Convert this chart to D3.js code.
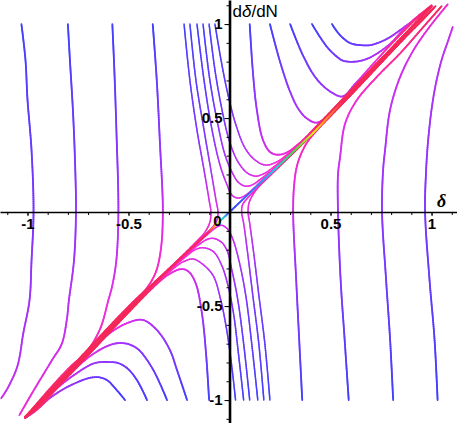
<!DOCTYPE html>
<head>
  <meta charset="UTF-8">
  <style>
    body { margin: 0; background: #fff; }
    svg { display: block; }
  </style>
  <title>Phase portrait of the density contrast</title>
</head>
<body>
  <script src="https://cdn.jsdelivr.net/npm/d3@7/dist/d3.min.js"></script>
  <script>
    // every point is [delta, d delta / dN]

    // long curves left of the saddle, top edge down into the lower-left corner (far -> near)
    var leftCurves = [
      [[-1.03,1.0],[-1.01,0.81],[-1.0,0.6],[-0.98,0.33],[-0.97,0],[-0.98,-0.26],[-0.99,-0.47],[-1.02,-0.64],[-1.05,-0.82],[-1.10,-0.94],[-1.13,-0.99]],
      [[-0.80,1.0],[-0.79,0.81],[-0.775,0.54],[-0.765,0.28],[-0.76,0],[-0.77,-0.26],[-0.795,-0.47],[-0.805,-0.57],[-0.83,-0.70],[-0.88,-0.79],[-0.97,-0.95],[-1.04,-1.08]],
      [[-0.58,1.0],[-0.57,0.755],[-0.56,0.44],[-0.55,0],[-0.56,-0.255],[-0.58,-0.39],[-0.60,-0.47],[-0.64,-0.62],[-0.705,-0.74],[-0.79,-0.825],[-0.89,-0.94],[-1.01,-1.09]],
      [[-0.38,1.0],[-0.36,0.70],[-0.345,0.38],[-0.33,0],[-0.34,-0.20],[-0.365,-0.32],[-0.41,-0.405],[-0.47,-0.47],[-0.57,-0.58],[-0.74,-0.775],[-0.89,-0.95],[-1.01,-1.09]]
    ];

    // long curves right of the saddle, bottom edge up into the upper-right corner (far -> near)
    var rightCurves = [
      [[1.03,-1.0],[1.015,-0.68],[0.99,-0.36],[0.968,0],[0.973,0.22],[0.983,0.38],[1.0,0.545],[1.02,0.675],[1.05,0.81],[1.08,0.905],[1.105,0.985]],
      [[0.81,-1.0],[0.795,-0.68],[0.775,-0.36],[0.755,0],[0.76,0.22],[0.77,0.33],[0.795,0.545],[0.845,0.72],[0.91,0.86],[0.99,0.985],[1.08,1.105]],
      [[0.59,-1.0],[0.57,-0.68],[0.55,-0.36],[0.537,0],[0.537,0.2],[0.547,0.29],[0.572,0.47],[0.63,0.595],[0.73,0.72],[0.845,0.845],[0.96,0.985],[1.05,1.095]],
      [[0.36,-1.0],[0.345,-0.68],[0.33,-0.36],[0.315,0],[0.32,0.145],[0.335,0.25],[0.375,0.355],[0.43,0.432],[0.50,0.512],[0.645,0.675],[0.83,0.89],[0.945,1.01],[1.02,1.095]]
    ];

    // curves starting at the top right of the axis, turning into the upper-right branch (far -> near)
    var upperCurves = [
      [[0.507,1.0],[0.547,0.941],[0.597,0.899],[0.646,0.888],[0.696,0.888],[0.745,0.904],[0.795,0.931],[0.879,0.995],[0.943,1.045],[1.0,1.1]],
      [[0.408,1.0],[0.448,0.931],[0.483,0.878],[0.522,0.835],[0.562,0.805],[0.621,0.80],[0.681,0.815],[0.74,0.85],[0.80,0.90],[0.86,0.97],[0.93,1.04],[1.0,1.098]],
      [[0.30,1.0],[0.365,0.83],[0.43,0.71],[0.50,0.64],[0.56,0.615],[0.62,0.68],[0.70,0.775],[0.78,0.87],[0.86,0.96],[0.93,1.035],[1.0,1.097]],
      [[0.20,1.0],[0.25,0.80],[0.30,0.64],[0.34,0.55],[0.38,0.50],[0.43,0.475],[0.48,0.505],[0.54,0.575],[0.62,0.665],[0.72,0.78],[0.82,0.89],[0.91,0.995],[1.0,1.095]],
      [[0.10,1.0],[0.115,0.755],[0.135,0.545],[0.165,0.385],[0.20,0.32],[0.235,0.305],[0.28,0.315],[0.35,0.37],[0.45,0.478],[0.58,0.62],[0.75,0.812],[0.90,0.982],[1.0,1.093]]
    ];

    // curves starting at the bottom left of the axis, turning into the lower-left branch (far -> near)
    var lowerCurves = [
      [[-0.517,-1.0],[-0.567,-0.936],[-0.606,-0.894],[-0.651,-0.878],[-0.696,-0.883],[-0.75,-0.904],[-0.804,-0.931],[-0.889,-0.989],[-0.963,-1.06],[-1.012,-1.095]],
      [[-0.408,-1.0],[-0.458,-0.894],[-0.507,-0.83],[-0.552,-0.803],[-0.592,-0.798],[-0.666,-0.803],[-0.755,-0.856],[-0.864,-0.947],[-0.948,-1.04],[-1.012,-1.095]],
      [[-0.309,-1.0],[-0.364,-0.867],[-0.408,-0.787],[-0.453,-0.729],[-0.502,-0.702],[-0.552,-0.697],[-0.616,-0.718],[-0.715,-0.787],[-0.839,-0.92],[-0.938,-1.035],[-1.012,-1.093]],
      [[-0.21,-1.0],[-0.26,-0.84],[-0.295,-0.734],[-0.359,-0.628],[-0.428,-0.574],[-0.493,-0.585],[-0.592,-0.644],[-0.725,-0.79],[-0.864,-0.94],[-1.012,-1.09]],
      [[-0.101,-1.0],[-0.116,-0.755],[-0.136,-0.543],[-0.166,-0.383],[-0.2,-0.319],[-0.235,-0.303],[-0.299,-0.33],[-0.398,-0.42],[-0.542,-0.574],[-0.74,-0.80],[-1.012,-1.09]]
    ];

    // steep curves from the top edge just left of the axis
    var topNearAxis = [
      [[-0.225,1.0],[-0.196,0.70],[-0.161,0.436],[-0.126,0.223],[-0.101,0.064],[-0.092,0],[-0.097,-0.053],[-0.121,-0.106],[-0.171,-0.165],[-0.344,-0.348],[-0.592,-0.615],[-0.839,-0.895],[-1.012,-1.088]],
      [[-0.196,1.0],[-0.166,0.70],[-0.126,0.436],[-0.092,0.223],[-0.067,0.064],[-0.057,0],[-0.062,-0.043],[-0.082,-0.078],[-0.121,-0.12],[-0.245,-0.245],[-0.542,-0.55],[-0.80,-0.858],[-1.012,-1.089]],
      [[-0.161,1.0],[-0.126,0.70],[-0.087,0.44],[-0.047,0.25],[-0.012,0.144],[0.012,0.09],[0.042,0.074],[0.072,0.085],[0.111,0.117],[0.176,0.186],[0.30,0.308],[0.55,0.582],[0.80,0.868],[1.0,1.092]],
      [[-0.131,1.0],[-0.097,0.70],[-0.057,0.463],[-0.022,0.303],[0.012,0.213],[0.042,0.16],[0.077,0.138],[0.111,0.144],[0.161,0.181],[0.25,0.258],[0.45,0.466],[0.70,0.757],[1.0,1.093]],
      [[-0.101,1.0],[-0.072,0.755],[-0.037,0.543],[-0.002,0.383],[0.037,0.277],[0.082,0.213],[0.126,0.191],[0.166,0.202],[0.225,0.245],[0.349,0.362],[0.597,0.638],[0.85,0.925],[1.0,1.094]],
      [[-0.072,1.0],[-0.042,0.809],[-0.007,0.622],[0.032,0.463],[0.077,0.34],[0.126,0.277],[0.176,0.25],[0.225,0.262],[0.30,0.318],[0.399,0.418],[0.597,0.645],[0.85,0.926],[1.0,1.095]]
    ];

    // steep curves from the bottom edge just right of the axis
    var bottomNearAxis = [
      [[0.20,-1.0],[0.175,-0.70],[0.145,-0.44],[0.12,-0.22],[0.10,-0.06],[0.092,0],[0.097,0.05],[0.12,0.10],[0.17,0.165],[0.34,0.34],[0.59,0.61],[0.84,0.895],[1.012,1.088]],
      [[0.17,-1.0],[0.145,-0.70],[0.115,-0.44],[0.09,-0.22],[0.07,-0.06],[0.06,0],[0.065,0.04],[0.09,0.075],[0.13,0.12],[0.25,0.245],[0.54,0.555],[0.80,0.85],[1.012,1.089]],
      [[0.14,-1.0],[0.11,-0.70],[0.08,-0.44],[0.045,-0.25],[0.015,-0.14],[-0.01,-0.09],[-0.04,-0.07],[-0.07,-0.085],[-0.11,-0.12],[-0.18,-0.19],[-0.30,-0.315],[-0.55,-0.59],[-0.80,-0.87],[-1.01,-1.092]],
      [[0.10,-1.0],[0.07,-0.70],[0.04,-0.46],[0.01,-0.30],[-0.01,-0.21],[-0.04,-0.16],[-0.08,-0.14],[-0.11,-0.145],[-0.16,-0.18],[-0.25,-0.262],[-0.45,-0.472],[-0.70,-0.76],[-1.01,-1.093]],
      [[0.07,-1.0],[0.045,-0.76],[0.02,-0.54],[-0.01,-0.38],[-0.04,-0.28],[-0.08,-0.21],[-0.13,-0.19],[-0.17,-0.20],[-0.22,-0.24],[-0.35,-0.362],[-0.60,-0.64],[-0.85,-0.926],[-1.01,-1.094]],
      [[0.03,-1.0],[0.01,-0.81],[-0.015,-0.62],[-0.045,-0.46],[-0.08,-0.34],[-0.13,-0.28],[-0.18,-0.25],[-0.23,-0.265],[-0.30,-0.32],[-0.40,-0.42],[-0.60,-0.648],[-0.85,-0.93],[-1.01,-1.095]]
    ];

    // the attracting diagonal, leaving the origin both ways
    var diagonalUp = [[0.005,0.005],[0.05,0.051],[0.10,0.102],[0.15,0.153],[0.20,0.203],[0.25,0.254],[0.30,0.305],[0.35,0.356],[0.413,0.42],[0.50,0.519],[0.60,0.634],[0.70,0.748],[0.80,0.862],[0.90,0.977],[1.0,1.091]];
    var diagonalDown = [[-0.005,-0.005],[-0.05,-0.051],[-0.10,-0.102],[-0.15,-0.153],[-0.20,-0.203],[-0.25,-0.254],[-0.30,-0.305],[-0.35,-0.356],[-0.413,-0.42],[-0.50,-0.519],[-0.60,-0.634],[-0.70,-0.748],[-0.80,-0.862],[-0.90,-0.977],[-1.012,-1.091]];

    // tick labels
    var xLabels = [-1, -0.5, 0.5, 1];
    var yLabels = [-1, -0.5, 0.5, 1];

    // colour ramps along each curve: [fraction of length, colour]
    var verticalRamps = [
      [[0,"#4040ff"],[0.5,"#7a36ff"],[1,"#c830f0"]],
      [[0,"#4040ff"],[0.45,"#8a35ff"],[0.8,"#d02ef0"],[1,"#f02ad0"]],
      [[0,"#4040ff"],[0.4,"#9a33ff"],[0.65,"#e82ee8"],[0.82,"#ff2aa0"],[1,"#f5285a"]],
      [[0,"#4040ff"],[0.3,"#9a33ff"],[0.5,"#f02ae0"],[0.65,"#ff2a90"],[0.75,"#f5285a"],[1,"#f5285a"]]
    ];
    var sweepRamps = [
      [[0,"#4040ff"],[0.45,"#8035ff"],[1,"#e02ee0"]],
      [[0,"#4040ff"],[0.4,"#9033ff"],[0.75,"#e02ee8"],[1,"#ff2aa0"]],
      [[0,"#4040ff"],[0.35,"#9a33ff"],[0.6,"#ee2ee0"],[0.8,"#ff2a80"],[1,"#f5285a"]],
      [[0,"#4040ff"],[0.3,"#a033ff"],[0.5,"#f02ae0"],[0.7,"#ff2a70"],[1,"#f5285a"]],
      [[0,"#4040ff"],[0.25,"#a033ff"],[0.42,"#f02ae0"],[0.6,"#f5285a"],[1,"#f5285a"]]
    ];
    var crossRamp = [[0,"#4040ff"],[0.25,"#8035ff"],[0.4,"#e02ee8"],[0.5,"#ff2ab0"],[0.6,"#f5285a"],[1,"#f5285a"]];
    var turnRamp = [[0,"#4040ff"],[0.2,"#7036ff"],[0.35,"#c030f8"],[0.45,"#ff2ad0"],[0.58,"#f5285a"],[1,"#f5285a"]];
    var rainbowUp = [[0,"#4040ff"],[0.1,"#3a6cff"],[0.21,"#22cce8"],[0.31,"#44dd44"],[0.40,"#e8e822"],[0.47,"#ff8c22"],[0.55,"#f5285a"],[1,"#f5285a"]];
    var rainbowDown = [[0,"#4040ff"],[0.025,"#22cce8"],[0.04,"#44dd44"],[0.055,"#e8e822"],[0.07,"#ff8c22"],[0.1,"#f5285a"],[1,"#f5285a"]];

    var width = 457;
    var height = 423;

    var x = d3.scaleLinear().domain([-1.136, 1.126]).range([0, width]);
    var y = d3.scaleLinear().domain([-1.122, 1.128]).range([height, 0]);

    var svg = d3.select("body").append("svg")
      .attr("width", width)
      .attr("height", height);

    svg.append("rect").attr("width", width).attr("height", height).attr("fill", "#fff");

    var plot = svg.append("g").attr("id", "curves");

    var line = d3.line()
      .x(function (d) { return x(d[0]); })
      .y(function (d) { return y(d[1]); })
      .curve(d3.curveCatmullRom.alpha(0.5));

    function rampScale(stops) {
      return d3.scaleLinear()
        .domain(stops.map(function (s) { return s[0]; }))
        .range(stops.map(function (s) { return s[1]; }))
        .interpolate(d3.interpolateRgb)
        .clamp(true);
    }

    // draw one curve as short pieces so the colour can run along it
    function drawCurve(pts, stops, w) {
      var color = rampScale(stops);
      var tmp = plot.append("path").attr("d", line(pts)).attr("fill", "none");
      var node = tmp.node();
      var len = node.getTotalLength();
      var n = Math.max(2, Math.ceil(len / 2));
      var samples = d3.range(n + 1).map(function (i) { return node.getPointAtLength(len * i / n); });
      tmp.remove();
      var segs = d3.pairs(samples).map(function (p, i) {
        return { a: p[0], b: p[1], t: (i + 0.5) / n };
      });
      plot.append("g").selectAll("line")
        .data(segs)
        .join("line")
        .attr("x1", function (d) { return d.a.x; })
        .attr("y1", function (d) { return d.a.y; })
        .attr("x2", function (d) { return d.b.x; })
        .attr("y2", function (d) { return d.b.y; })
        .attr("stroke", function (d) { return color(d.t); })
        .attr("stroke-width", w || 1.8)
        .attr("stroke-linecap", "round");
    }

    leftCurves.forEach(function (c, i) { drawCurve(c, verticalRamps[i]); });
    rightCurves.forEach(function (c, i) { drawCurve(c, verticalRamps[i]); });
    upperCurves.forEach(function (c, i) { drawCurve(c, sweepRamps[i]); });
    lowerCurves.forEach(function (c, i) { drawCurve(c, sweepRamps[i]); });
    topNearAxis.forEach(function (c, i) { drawCurve(c, i < 2 ? crossRamp : turnRamp, 1.5); });
    bottomNearAxis.forEach(function (c, i) { drawCurve(c, i < 2 ? crossRamp : turnRamp, 1.5); });
    drawCurve(diagonalUp, rainbowUp, 1.8);
    drawCurve(diagonalDown, rainbowDown, 1.8);

    // axes through the origin
    var font = "'Liberation Sans', Arial, Helvetica, sans-serif";

    var xMinor = svg.append("g")
      .attr("transform", "translate(0," + y(0) + ")")
      .call(d3.axisBottom(x).tickValues(x.ticks(20)).tickSize(3).tickSizeOuter(0).tickFormat(""));
    xMinor.select(".domain").attr("stroke-width", 1.6);

    var xMajor = svg.append("g")
      .attr("transform", "translate(0," + y(0) + ")")
      .call(d3.axisBottom(x).tickValues(xLabels).tickSize(4).tickPadding(2).tickSizeOuter(0)
        .tickFormat(function (d) { return String(d); }))
      .attr("font-family", font)
      .attr("font-size", 15)
      .attr("font-weight", "bold");
    xMajor.select(".domain").remove();

    var yMinor = svg.append("g")
      .attr("transform", "translate(" + x(0) + ",0)")
      .call(d3.axisLeft(y).tickValues(y.ticks(20)).tickSize(3).tickSizeOuter(0).tickFormat(""));
    yMinor.select(".domain").attr("stroke-width", 2.6);

    var yMajor = svg.append("g")
      .attr("transform", "translate(" + x(0) + ",0)")
      .call(d3.axisLeft(y).tickValues(yLabels).tickSize(5).tickPadding(2).tickSizeOuter(0)
        .tickFormat(function (d) { return String(d); }))
      .attr("font-family", font)
      .attr("font-size", 15)
      .attr("font-weight", "bold");
    yMajor.select(".domain").remove();

    // origin label
    svg.append("text")
      .attr("x", x(0) - 12)
      .attr("y", y(0) + 14)
      .attr("text-anchor", "middle")
      .attr("font-family", font)
      .attr("font-size", 15)
      .attr("font-weight", "bold")
      .text("0");

    // axis titles
    svg.append("text")
      .attr("x", 437)
      .attr("y", y(0) - 5)
      .attr("font-family", "'Liberation Serif', 'Times New Roman', serif")
      .attr("font-size", 18)
      .attr("font-weight", "bold")
      .attr("font-style", "italic")
      .text("δ");

    var yTitle = svg.append("text")
      .attr("x", x(0) + 3)
      .attr("y", 17)
      .attr("font-family", font)
      .attr("font-size", 17);
    yTitle.append("tspan").text("d");
    yTitle.append("tspan").attr("font-style", "italic").text("δ");
    yTitle.append("tspan").text("/dN");
  </script>
</body>
